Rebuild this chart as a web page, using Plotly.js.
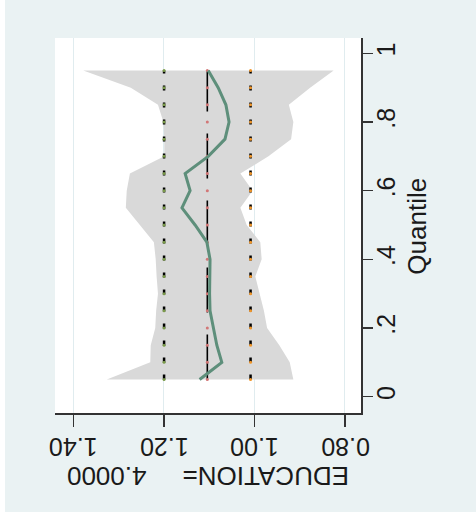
<!DOCTYPE html>
<html>
<head>
<meta charset="utf-8">
<script src="https://cdn.plot.ly/plotly-3.0.1.min.js"></script>
<style>
  html, body { margin: 0; padding: 0; background: #ffffff; width: 476px; height: 517px; overflow: hidden; }
  #chart { position: absolute; left: 5px; top: 0px; width: 471px; height: 512px; }
</style>
</head>
<body>
<div id="chart"></div>
<script>
// ---- data ----
const quantiles = [0.05, 0.10, 0.15, 0.20, 0.25, 0.30, 0.35, 0.40, 0.45, 0.50,
                   0.55, 0.60, 0.65, 0.70, 0.75, 0.80, 0.85, 0.90, 0.95];
const coef = [1.121, 1.072, 1.083, 1.091, 1.098, 1.099, 1.098, 1.098, 1.105, 1.131,
              1.160, 1.142, 1.153, 1.102, 1.065, 1.056, 1.063, 1.080, 1.102];
const ciUpper = [1.326, 1.230, 1.229, 1.219, 1.217, 1.213, 1.216, 1.218, 1.222, 1.253,
                 1.284, 1.282, 1.275, 1.199, 1.199, 1.201, 1.213, 1.273, 1.378];
const ciLower = [0.914, 0.922, 0.945, 0.972, 0.979, 0.988, 0.998, 0.984, 0.987, 1.017,
                 1.031, 1.004, 1.031, 0.969, 0.919, 0.914, 0.924, 0.877, 0.825];
const olsCoef = 1.104;
const olsUpper = 1.1995;
const olsLower = 1.0085;
const xTickVals = [1.40, 1.20, 1.00, 0.80];
const xTickLabels = ["1.40", "1.20", "1.00", "0.80"];
const yTickVals = [0, 0.2, 0.4, 0.6, 0.8, 1];
const yTickLabels = ["0", ".2", ".4", ".6", ".8", "1"];
const titleText = "EDUCATION=\u00A0\u00A0\u00A0\u00A0\u00A04.0000";
const yTitleText = "Quantile";

// ---- traces ----
const FONT = "'Liberation Sans', Arial, sans-serif";
const flat = v => quantiles.map(() => v);

const band = {
  x: ciUpper.concat(ciLower.slice().reverse()),
  y: quantiles.concat(quantiles.slice().reverse()),
  type: 'scatter', mode: 'lines', fill: 'toself',
  fillcolor: '#d9d9d9', line: { width: 0, color: '#d9d9d9' },
  hoverinfo: 'skip', showlegend: false
};
function olsLine(v, dash, w) {
  return { x: flat(v), y: quantiles, type: 'scatter', mode: 'lines',
           line: { color: '#000000', width: w, dash: dash }, showlegend: false };
}
function olsDots(v, c) {
  return { x: flat(v), y: quantiles, type: 'scatter', mode: 'markers',
           marker: { color: c, size: 3 }, showlegend: false };
}
const coefLine = {
  x: coef, y: quantiles, type: 'scatter', mode: 'lines',
  line: { color: '#5e8f7b', width: 3 }, showlegend: false
};

const data = [
  band,
  olsLine(olsCoef, '45px,22px', 1.6),
  olsLine(olsUpper, '5px,12px', 2.5),
  olsLine(olsLower, '5px,12px', 2.5),
  olsDots(olsCoef, '#d27676'),
  olsDots(olsUpper, '#7a9a4a'),
  olsDots(olsLower, '#f0962a'),
  coefLine
];

const annotations = xTickVals.map((v, i) => ({
  x: v, xref: 'x', y: 0, yref: 'paper', yshift: -34.5,
  text: xTickLabels[i], textangle: 180, showarrow: false,
  xanchor: 'center', yanchor: 'middle',
  font: { family: FONT, size: 25, color: '#1a1a1a' }
}));
annotations.push({
  x: 0.5, xref: 'paper', y: 0, yref: 'paper', yshift: -63,
  text: titleText, textangle: 180, showarrow: false,
  xanchor: 'center', yanchor: 'middle',
  font: { family: FONT, size: 26, color: '#1a1a1a' }
});
annotations.push({
  x: 1, xref: 'paper', xshift: 56, y: 0.497, yref: 'paper',
  text: yTitleText, textangle: -90, showarrow: false,
  xanchor: 'center', yanchor: 'middle',
  font: { family: FONT, size: 26, color: '#1a1a1a' }
});

const layout = {
  width: 471, height: 512,
  margin: { l: 50, r: 115, t: 38, b: 99, pad: 0 },
  paper_bgcolor: '#eaf2f3', plot_bgcolor: '#ffffff',
  font: { family: FONT, color: '#1a1a1a' },
  showlegend: false,
  xaxis: {
    range: [1.4404, 0.7646], tickvals: xTickVals, showticklabels: false,
    ticks: 'outside', ticklen: 12, tickwidth: 1.5, tickcolor: '#333333',
    showline: true, linecolor: '#333333', linewidth: 1.5,
    showgrid: true, gridcolor: '#e0ecef', gridwidth: 1, zeroline: false
  },
  yaxis: {
    side: 'right', range: [-0.0475, 1.0446],
    tickvals: yTickVals, ticktext: yTickLabels, tickangle: -90,
    ticks: 'outside', ticklen: 10, tickwidth: 1.5, tickcolor: '#333333',
    ticklabelstandoff: -8,
    tickfont: { family: FONT, size: 25, color: '#1a1a1a' },
    showline: true, linecolor: '#333333', linewidth: 1.5,
    showgrid: false, zeroline: false
  },
  annotations: annotations
};

Plotly.newPlot('chart', data, layout, { displayModeBar: false, staticPlot: true });
</script>
</body>
</html>
